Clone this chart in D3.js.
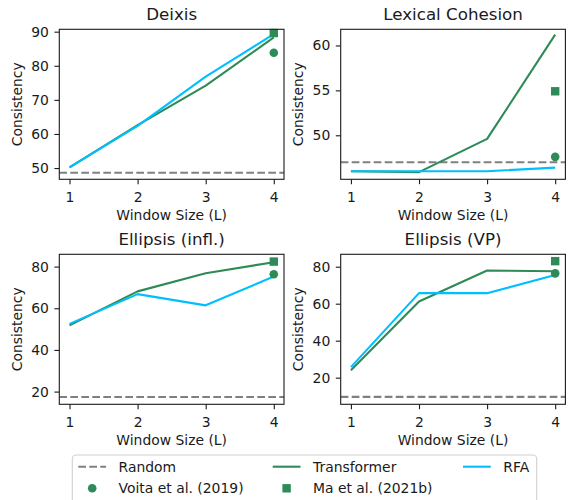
<!DOCTYPE html>
<html>
<head>
<meta charset="utf-8">
<script src="https://cdn.jsdelivr.net/npm/d3@7"></script>
<style>
  body { margin: 0; background: #fff; }
  text { font-family: "DejaVu Sans", sans-serif; fill: #1a1a1a; }
</style>
</head>
<body>
<script>
// ---- data ----
const windows = [1, 2, 3, 4];
const tasks = ["Deixis", "Lexical Cohesion", "Ellipsis (infl.)", "Ellipsis (VP)"];
const transformer = [
  [50.2, 62.6, 74.2, 88.3],
  [46.0, 45.9, 49.6, 61.2],
  [51.8, 68.1, 76.8, 82.1],
  [24.0, 61.2, 77.9, 77.5]
];
const rfa = [
  [50.2, 62.4, 76.8, 89.3],
  [46.0, 46.0, 46.0, 46.4],
  [52.5, 66.8, 61.4, 75.2],
  [25.7, 65.7, 65.7, 75.5]
];
const voita = [83.8, 47.6, 76.3, 76.4];
const ma = [89.6, 54.9, 82.4, 83.0];
const randomBaseline = [48.6, 47.0, 17.4, 9.6];
const yTicks = [[50, 60, 70, 80, 90], [50, 55, 60], [20, 40, 60, 80], [20, 40, 60, 80]];
const yDomains = [[46.7, 90.7], [45.1, 61.8], [13.9, 85.9], [5.6, 86.7]];
const legendLabels = ["Random", "Transformer", "RFA", "Voita et al. (2019)", "Ma et al. (2021b)"];

// ---- style ----
const GREEN = "#2e8b57", BLUE = "#00bfff", GRAY = "#808080";
const W = 568, H = 500;
const lefts = [59.3, 340.7], tops = [29.3, 254.3];
const pw = 224.7, ph = 150;
const FS = 13.9, TFS = 16.7;

const svg = d3.select("body").append("svg").attr("width", W).attr("height", H);

tasks.forEach((task, i) => {
  const col = i % 2, row = Math.floor(i / 2);
  const g = svg.append("g").attr("transform", `translate(${lefts[col]},${tops[row]})`);
  const x = d3.scaleLinear().domain([0.85, 4.15]).range([0, pw]);
  const y = d3.scaleLinear().domain(yDomains[i]).range([ph, 0]);

  const clipId = "clip" + i;
  g.append("clipPath").attr("id", clipId).append("rect").attr("width", pw).attr("height", ph);
  const plot = g.append("g").attr("clip-path", `url(#${clipId})`);

  // random baseline
  plot.append("line")
    .attr("x1", 0).attr("x2", pw)
    .attr("y1", y(randomBaseline[i])).attr("y2", y(randomBaseline[i]))
    .attr("stroke", GRAY).attr("stroke-width", 2.1).attr("stroke-dasharray", "7.7,3.3");

  const line = d3.line().x((d, k) => x(windows[k])).y(d => y(d));
  plot.append("path").datum(transformer[i]).attr("d", line)
    .attr("fill", "none").attr("stroke", GREEN).attr("stroke-width", 2.1).attr("stroke-linejoin", "round");
  plot.append("path").datum(rfa[i]).attr("d", line)
    .attr("fill", "none").attr("stroke", BLUE).attr("stroke-width", 2.1).attr("stroke-linejoin", "round");

  const xl = x(windows[windows.length - 1]);
  g.append("circle").attr("cx", xl).attr("cy", y(voita[i])).attr("r", 4.3).attr("fill", GREEN);
  g.append("rect").attr("x", xl - 4.2).attr("y", y(ma[i]) - 4.2).attr("width", 8.4).attr("height", 8.4).attr("fill", GREEN);

  // axes
  const xa = g.append("g").attr("transform", `translate(0,${ph})`)
    .call(d3.axisBottom(x).tickValues(windows).tickFormat(d3.format("d")).tickSize(4.9).tickPadding(7.5).tickSizeOuter(0));
  const ya = g.append("g")
    .call(d3.axisLeft(y).tickValues(yTicks[i]).tickFormat(d3.format("d")).tickSize(4.9).tickPadding(5.5).tickSizeOuter(0));
  [xa, ya].forEach(a => {
    a.select(".domain").remove();
    a.selectAll(".tick line").attr("stroke", "#1a1a1a").attr("stroke-width", 1.1);
    a.selectAll(".tick text").style("font-family", '"DejaVu Sans", sans-serif').style("font-size", FS + "px").attr("fill", "#1a1a1a");
  });

  g.append("rect").attr("width", pw).attr("height", ph)
    .attr("fill", "none").attr("stroke", "#1a1a1a").attr("stroke-width", 1.1);

  g.append("text").attr("x", pw / 2).attr("y", -9.5).attr("text-anchor", "middle")
    .style("font-size", TFS + "px").text(task);
  g.append("text").attr("x", pw / 2).attr("y", ph + 40.8).attr("text-anchor", "middle")
    .style("font-size", FS + "px").text("Window Size (L)");
  g.append("text").attr("transform", `translate(-37.6,${ph / 2}) rotate(-90)`).attr("text-anchor", "middle")
    .style("font-size", FS + "px").text("Consistency");
});

// ---- legend ----
const lg = svg.append("g");
lg.append("rect").attr("x", 72.3).attr("y", 455).attr("width", 464.4).attr("height", 52)
  .attr("rx", 3.9).attr("fill", "#fff").attr("fill-opacity", 0.8).attr("stroke", "#d0d0d0").attr("stroke-width", 1.1);
const colX = [78.3, 272.7, 463];
const rowY = [466.7, 488.3];
const entries = [
  { label: legendLabels[0], type: "dash", c: 0, r: 0 },
  { label: legendLabels[1], type: "green", c: 1, r: 0 },
  { label: legendLabels[2], type: "blue", c: 2, r: 0 },
  { label: legendLabels[3], type: "circle", c: 0, r: 1 },
  { label: legendLabels[4], type: "square", c: 1, r: 1 }
];
entries.forEach(e => {
  const hx = colX[e.c], hy = rowY[e.r], hw = 27.8;
  if (e.type === "dash" || e.type === "green" || e.type === "blue") {
    lg.append("line").attr("x1", hx).attr("x2", hx + hw).attr("y1", hy).attr("y2", hy)
      .attr("stroke", e.type === "dash" ? GRAY : e.type === "green" ? GREEN : BLUE)
      .attr("stroke-width", 2.1)
      .attr("stroke-dasharray", e.type === "dash" ? "7.7,3.3" : null);
  } else if (e.type === "circle") {
    lg.append("circle").attr("cx", hx + hw / 2).attr("cy", hy).attr("r", 4.3).attr("fill", GREEN);
  } else {
    lg.append("rect").attr("x", hx + hw / 2 - 4.2).attr("y", hy - 4.2).attr("width", 8.4).attr("height", 8.4).attr("fill", GREEN);
  }
  lg.append("text").attr("x", hx + hw + 12.5).attr("y", hy).attr("dy", "0.36em")
    .style("font-size", FS + "px").text(e.label);
});
</script>
</body>
</html>
